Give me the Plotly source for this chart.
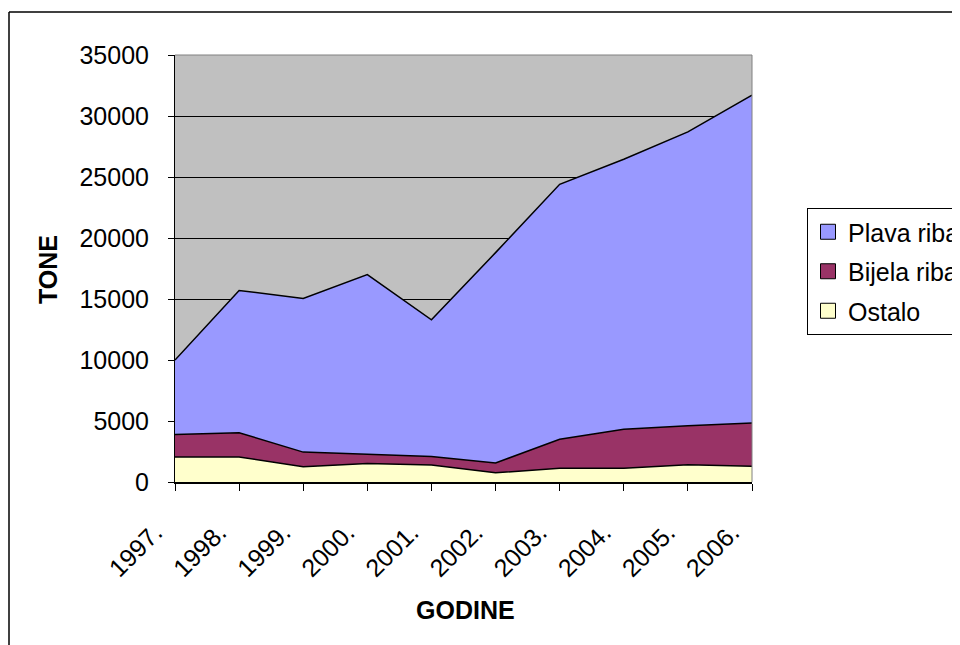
import plotly.graph_objects as go

years = ["1997.", "1998.", "1999.", "2000.", "2001.", "2002.", "2003.", "2004.", "2005.", "2006."]
ostalo = [2050, 2050, 1250, 1520, 1400, 760, 1120, 1120, 1420, 1290]
bijela = [1850, 1990, 1200, 750, 680, 800, 2380, 3200, 3200, 3550]
plava = [6100, 11660, 12600, 14730, 11220, 17240, 20900, 22130, 24080, 26860]

series = [
    ("Ostalo", ostalo, "#FFFFCC"),
    ("Bijela riba", bijela, "#993366"),
    ("Plava riba", plava, "#9999FF"),
]

FONT = "Arial, Liberation Sans, sans-serif"
FS = 25

fig = go.Figure()
for name, vals, col in series:
    fig.add_trace(go.Scatter(
        x=years, y=vals, name=name, mode="lines", stackgroup="one",
        line=dict(color="black", width=1.5), fillcolor=col,
        showlegend=False, hoverinfo="x+y+name",
    ))

# legend entries (square swatches), top to bottom
for name, vals, col in reversed(series):
    fig.add_trace(go.Scatter(
        x=[None], y=[None], name=name, mode="markers", legendgroup=name,
        marker=dict(symbol="square", size=15, color=col, line=dict(color="black", width=1)),
    ))

OFF = 8  # page body offset
W, H = 960 - OFF, 645 - OFF
L, T = 175 - OFF, 55 - OFF
pw, ph = 577, 427
R = W - L - pw
B = H - T - ph

def px_x(x):
    return (x - OFF - L) / pw

def px_y(y):
    return (H - B - (y - OFF)) / ph

fig.update_layout(
    width=W, height=H,
    margin=dict(l=L, r=R, t=T, b=B, autoexpand=False),
    paper_bgcolor="white", plot_bgcolor="#C0C0C0",
    font=dict(family=FONT, size=FS, color="black"),
    showlegend=True,
    legend=dict(
        x=px_x(807), y=px_y(208), xanchor="left", yanchor="top",
        bgcolor="white", bordercolor="black", borderwidth=1,
        font=dict(family=FONT, size=FS, color="black"),
        traceorder="grouped", tracegroupgap=4, itemwidth=30,
    ),
    xaxis=dict(
        type="category", range=[0, 9], showgrid=False, zeroline=False,
        showline=True, linecolor="black", linewidth=2,
        ticks="outside", ticklen=7, tickcolor="black", tickwidth=1,
        tickangle=-45, tickfont=dict(family=FONT, size=FS, color="black"),
        ticklabelshift=-20, ticklabelstandoff=17,
    ),
    yaxis=dict(
        range=[0, 35000], dtick=5000, tickformat="d",
        showgrid=True, gridcolor="black", gridwidth=1,
        zeroline=False, showline=True, linecolor="black", linewidth=1,
        ticks="outside", ticklen=6, tickcolor="black",
        tickfont=dict(family=FONT, size=FS, color="black"),
        ticklabelstandoff=14,
    ),
    annotations=[
        dict(text="<b>TONE</b>", x=px_x(48), y=px_y(270), xref="paper", yref="paper",
             xanchor="center", yanchor="middle",
             textangle=-90, showarrow=False, font=dict(family=FONT, size=25, color="black")),
        dict(text="<b>GODINE</b>", x=px_x(465), y=px_y(610), xref="paper", yref="paper",
             xanchor="center", yanchor="middle",
             showarrow=False, font=dict(family=FONT, size=25, color="black")),
    ],
    shapes=[
        dict(type="line", xref="paper", yref="paper", x0=px_x(9), x1=px_x(1000),
             y0=px_y(12), y1=px_y(12), line=dict(color="black", width=1.5)),
        dict(type="line", xref="paper", yref="paper", x0=px_x(9), x1=px_x(9),
             y0=px_y(12), y1=px_y(700), line=dict(color="black", width=1.5)),
        dict(type="line", xref="paper", yref="paper", x0=0, x1=1, y0=1, y1=1,
             line=dict(color="#808080", width=1)),
        dict(type="line", xref="paper", yref="paper", x0=1, x1=1, y0=0, y1=1,
             line=dict(color="#808080", width=1)),
    ],
)

fig.write_html("out.html")
